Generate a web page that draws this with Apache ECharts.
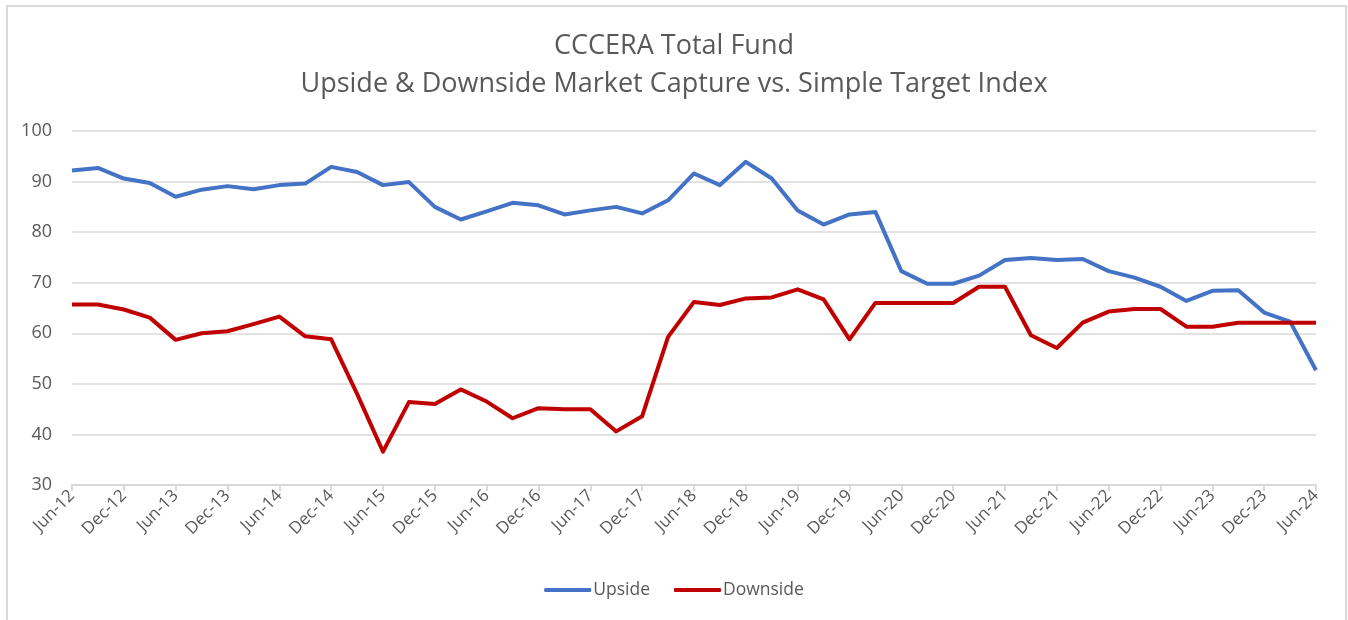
<!DOCTYPE html>
<html>
<head>
<meta charset="utf-8">
<script src="https://cdn.jsdelivr.net/npm/echarts@6/dist/echarts.min.js"></script>
<style>
html,body{margin:0;padding:0;background:#fff;}
#chart{width:1348px;height:620px;}
</style>
</head>
<body>
<div id="chart"></div>
<script>
const categories = [
  "Jun-12","Sep-12","Dec-12","Mar-13","Jun-13","Sep-13","Dec-13","Mar-14","Jun-14","Sep-14","Dec-14","Mar-15",
  "Jun-15","Sep-15","Dec-15","Mar-16","Jun-16","Sep-16","Dec-16","Mar-17","Jun-17","Sep-17","Dec-17","Mar-18",
  "Jun-18","Sep-18","Dec-18","Mar-19","Jun-19","Sep-19","Dec-19","Mar-20","Jun-20","Sep-20","Dec-20","Mar-21",
  "Jun-21","Sep-21","Dec-21","Mar-22","Jun-22","Sep-22","Dec-22","Mar-23","Jun-23","Sep-23","Dec-23","Mar-24","Jun-24"
];
const upside = [
  92.2, 92.7, 90.6, 89.7, 87.0, 88.4, 89.1, 88.5, 89.3, 89.6, 92.9, 91.9,
  89.3, 89.9, 85.0, 82.5, 84.1, 85.8, 85.3, 83.5, 84.3, 85.0, 83.7, 86.3,
  91.6, 89.3, 93.9, 90.6, 84.3, 81.5, 83.5, 84.0, 72.3, 69.8, 69.8, 71.4,
  74.5, 74.9, 74.5, 74.7, 72.3, 71.0, 69.2, 66.4, 68.4, 68.5, 64.1, 62.3, 52.7
];
const downside = [
  65.7, 65.7, 64.7, 63.1, 58.7, 60.0, 60.4, 61.8, 63.3, 59.4, 58.8, 48.0,
  36.6, 46.4, 46.0, 48.9, 46.5, 43.2, 45.2, 45.0, 45.0, 40.6, 43.6, 59.3,
  66.2, 65.6, 66.9, 67.1, 68.7, 66.7, 58.8, 66.0, 66.0, 66.0, 66.0, 69.2,
  69.2, 59.6, 57.1, 62.1, 64.3, 64.8, 64.8, 61.3, 61.3, 62.1, 62.1, 62.1, 62.1
];
const titleLines = ["CCCERA Total Fund", "Upside & Downside Market Capture vs. Simple Target Index"];
const seriesNames = ["Upside", "Downside"];

const chart = echarts.init(document.getElementById('chart'), null, {renderer: 'canvas'});
const FONT = '"Open Sans", "Noto Sans", sans-serif';
const TXT = '#595959';
chart.setOption({
  backgroundColor: '#ffffff',
  animation: false,
  title: {
    text: titleLines.join('\n'),
    left: 'center',
    top: 22,
    textStyle: {fontFamily: FONT, fontSize: 27, fontWeight: 'normal', color: TXT, lineHeight: 38}
  },
  graphic: [{
    type: 'rect',
    shape: {x: 7, y: 6, width: 1339, height: 630},
    style: {fill: 'none', stroke: '#d9d9d9', lineWidth: 2},
    silent: true
  }],
  legend: {
    data: seriesNames,
    bottom: 16,
    left: 'center',
    icon: 'roundRect',
    itemWidth: 47,
    itemHeight: 4,
    itemGap: 24,
    textStyle: {fontFamily: FONT, fontSize: 17.5, color: TXT, padding: [0, 0, 0, -3]}
  },
  grid: {left: 72, right: 32, top: 131, height: 354, containLabel: false},
  xAxis: {
    type: 'category',
    data: categories,
    boundaryGap: false,
    axisLine: {lineStyle: {color: '#d9d9d9', width: 2}},
    axisTick: {show: true, interval: 1, length: 6, lineStyle: {color: '#d9d9d9', width: 2}},
    axisLabel: {interval: 1, rotate: 45, fontFamily: FONT, fontSize: 17, color: TXT, margin: 8},
    splitLine: {show: false}
  },
  yAxis: {
    type: 'value',
    min: 30, max: 100, interval: 10,
    axisLine: {show: false},
    axisTick: {show: false},
    axisLabel: {fontFamily: FONT, fontSize: 18, color: TXT, margin: 20},
    splitLine: {lineStyle: {color: '#d9d9d9', width: 1.5}}
  },
  series: [
    {name: seriesNames[0], type: 'line', data: upside, symbol: 'none', lineStyle: {color: '#4472C4', width: 4, join: 'round'}, itemStyle: {color: '#4472C4'}},
    {name: seriesNames[1], type: 'line', data: downside, symbol: 'none', lineStyle: {color: '#C00000', width: 4, join: 'round'}, itemStyle: {color: '#C00000'}}
  ]
});
</script>
</body>
</html>
